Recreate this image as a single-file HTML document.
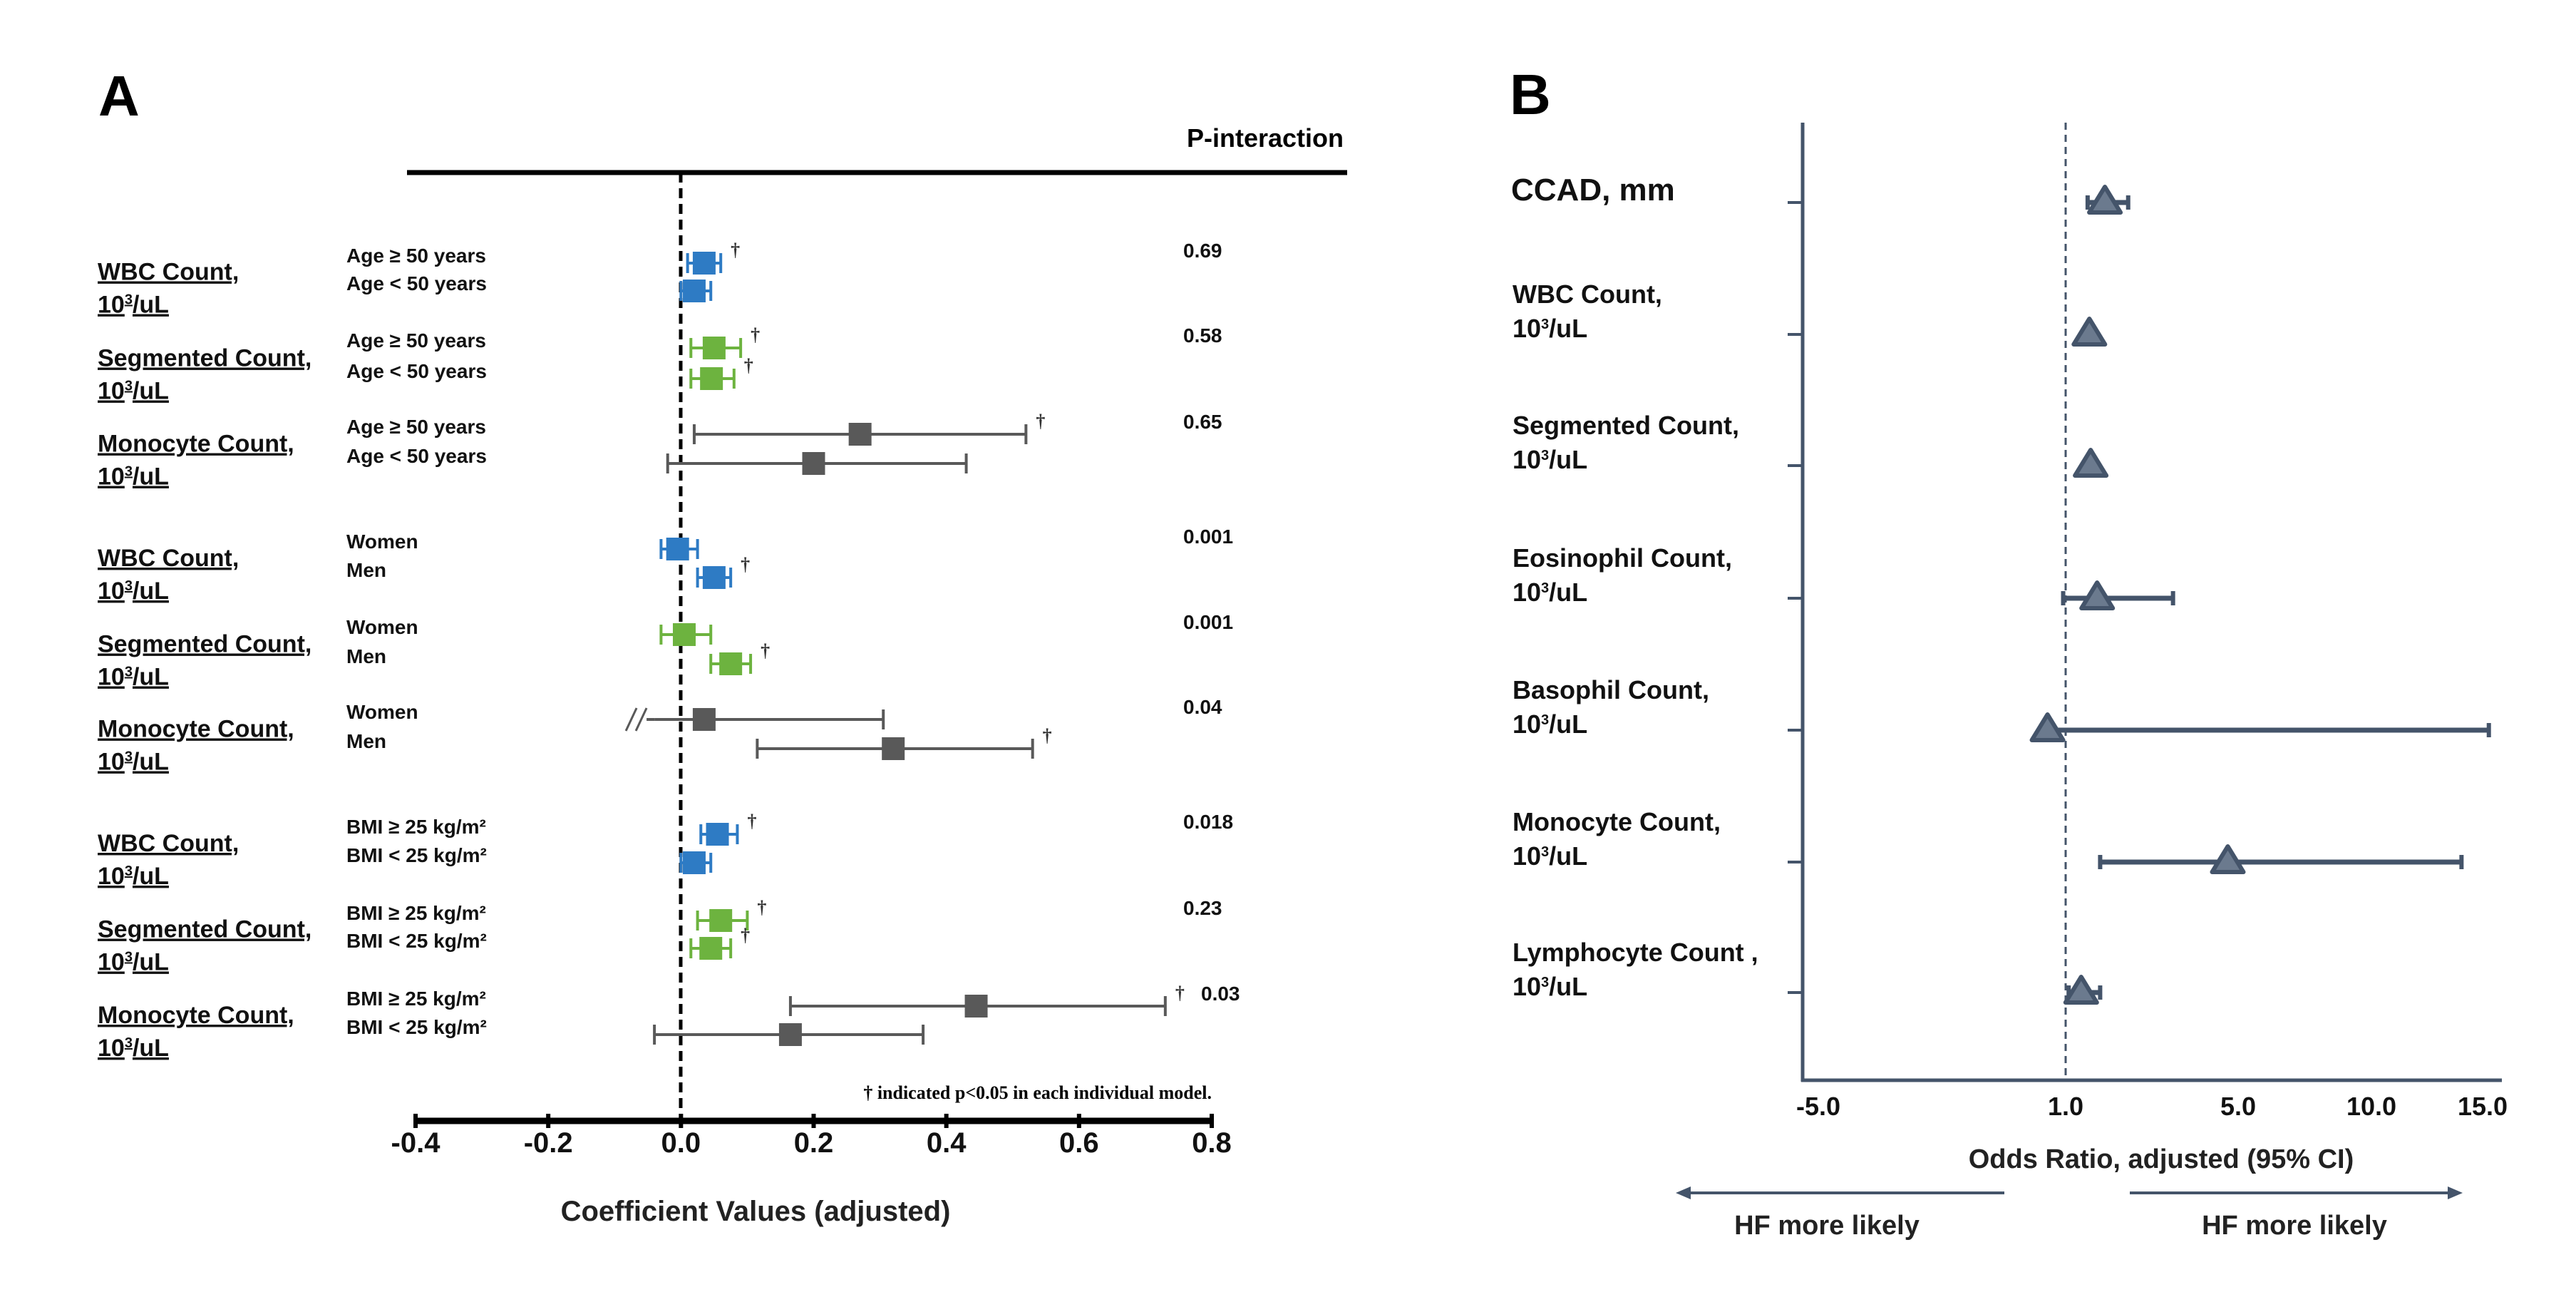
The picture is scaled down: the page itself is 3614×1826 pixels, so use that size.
<!DOCTYPE html>
<html><head><meta charset="utf-8"><style>
html,body{margin:0;padding:0;background:#fff}
svg{display:block;font-family:"Liberation Sans",sans-serif}
</style></head><body>
<svg id="fig" width="3614" height="1826" viewBox="0 0 3614 1826" xmlns="http://www.w3.org/2000/svg">
<g id="panelA">
<text x="138" y="162" font-size="80" font-weight="bold">A</text>
<text x="1885" y="206" font-size="36" font-weight="bold" text-anchor="end">P-interaction</text>
<line x1="571" y1="242" x2="1890" y2="242" stroke="#000" stroke-width="7"/>
<line x1="955" y1="242" x2="955" y2="1572" stroke="#000" stroke-width="5" stroke-dasharray="14,8"/>
<line x1="583" y1="1572" x2="1700" y2="1572" stroke="#000" stroke-width="9"/>
<text x="1060" y="1712" font-size="40" font-weight="bold" text-anchor="middle" fill="#222">Coefficient Values (adjusted)</text>
<text x="1700" y="1541" font-size="26" font-weight="bold" font-family="Liberation Serif, serif" text-anchor="end">† indicated p&lt;0.05 in each individual model.</text>
<g id="aTicks"></g><g id="aLabels"></g><g id="aMarks"></g>
</g>
<g id="panelB">
<text x="2118" y="160" font-size="80" font-weight="bold">B</text>
<line x1="2529" y1="172" x2="2529" y2="1517" stroke="#44546a" stroke-width="5"/>
<line x1="2527" y1="1515" x2="3510" y2="1515" stroke="#44546a" stroke-width="5"/>
<line x1="2898" y1="172" x2="2898" y2="1515" stroke="#44546a" stroke-width="3" stroke-dasharray="10,7"/>
<text x="3032" y="1638" font-size="38" font-weight="bold" text-anchor="middle" fill="#222">Odds Ratio, adjusted  (95% CI)</text>
<g><line x1="2812" y1="1673" x2="2365" y2="1673" stroke="#44546a" stroke-width="4"/><polygon points="2351,1673 2372,1664 2372,1682" fill="#44546a"/></g>
<g><line x1="2988" y1="1673" x2="3440" y2="1673" stroke="#44546a" stroke-width="4"/><polygon points="3455,1673 3434,1664 3434,1682" fill="#44546a"/></g>
<text x="2563" y="1731" font-size="38" font-weight="bold" text-anchor="middle" fill="#222">HF more likely</text>
<text x="3219" y="1731" font-size="38" font-weight="bold" text-anchor="middle" fill="#222">HF more likely</text>
<g id="bTicks"></g><g id="bMarks"></g>
</g>
</svg>
<script>
// ---- Panel A data ----
const aTickValues = [-0.4,-0.2,0.0,0.2,0.4,0.6,0.8];
const aTickLabels = ["-0.4","-0.2","0.0","0.2","0.4","0.6","0.8"];
const aGroups = ["WBC Count,","Segmented Count,","Monocyte Count,","WBC Count,","Segmented Count,","Monocyte Count,","WBC Count,","Segmented Count,","Monocyte Count,"];
const aSubLabels = ["Age ≥ 50 years","Age < 50 years","Age ≥ 50 years","Age < 50 years","Age ≥ 50 years","Age < 50 years","Women","Men","Women","Men","Women","Men","BMI ≥ 25 kg/m²","BMI < 25 kg/m²","BMI ≥ 25 kg/m²","BMI < 25 kg/m²","BMI ≥ 25 kg/m²","BMI < 25 kg/m²"];
const aEstimates = [0.035,0.02,0.05,0.046,0.27,0.20,-0.005,0.05,0.005,0.075,0.035,0.32,0.055,0.02,0.06,0.045,0.445,0.165];
const aLower =     [0.01,0.0,0.015,0.015,0.02,-0.02,-0.03,0.025,-0.03,0.045,-0.04,0.115,0.03,0.0,0.025,0.015,0.165,-0.04];
const aUpper =     [0.06,0.045,0.09,0.08,0.52,0.43,0.025,0.075,0.045,0.105,0.305,0.53,0.085,0.045,0.1,0.075,0.73,0.365];
const aSignificant = [1,0,1,1,1,0,0,1,0,1,0,1,1,0,1,1,1,0];
const aPValues = ["0.69","0.58","0.65","0.001","0.001","0.04","0.018","0.23","0.03"];
const aGroupColors = ["#2e7bc4","#6db33f","#595959"];
// ---- Panel B data ----
const bTickValues = [-5,1,5,10,15];
const bTickLabels = ["-5.0","1.0","5.0","10.0","15.0"];
const bCategories = [["CCAD, mm"],["WBC Count,","10³/uL"],["Segmented Count,","10³/uL"],["Eosinophil Count,","10³/uL"],["Basophil Count,","10³/uL"],["Monocyte Count,","10³/uL"],["Lymphocyte Count ,","10³/uL"]];
const bOR =    [1.91,1.55,1.58,1.73,0.56,4.76,1.36];
const bLower = [1.51,1.45,1.5,0.94,0.56,1.8,1.07];
const bUpper = [2.45,1.65,1.66,3.49,15.28,14.05,1.8];

const NS="http://www.w3.org/2000/svg";
function mk(parent,tag,attrs,text){const e=document.createElementNS(NS,tag);for(const k in attrs)e.setAttribute(k,attrs[k]);if(text!==undefined)e.textContent=text;parent.appendChild(e);return e;}
const ax0=583, ax1=1700;
function xA(v){return ax0+(v-(-0.4))/(1.2)*(ax1-ax0);}
const rowY=[369,408,488,531,609,650,770,810,890,931,1009,1050,1170,1210,1291,1330,1411,1451];
function yA(i){return rowY[i];}
const tA=document.getElementById('aTicks');
aTickValues.forEach((v,i)=>{
  const g=mk(tA,'g',{});
  
  
  mk(g,'line',{x1:xA(v),x2:xA(v),y1:1562,y2:1582,stroke:'#000','stroke-width':6});
  mk(g,'text',{x:xA(v),y:1616,'font-size':40,'font-weight':'bold','text-anchor':'middle',fill:'#111'},aTickLabels[i]);
});
const lA=document.getElementById('aLabels');
aGroups.forEach((name,gi)=>{
  const y=(yA(gi*2)+yA(gi*2+1))/2;
  const g=mk(lA,'g',{});
  
  
  mk(g,'text',{x:137,y:y+4,'font-size':34,'font-weight':'bold','text-decoration':'underline',fill:'#111'},name);
  const t2=mk(g,'text',{x:137,y:y+50,'font-size':34,'font-weight':'bold','text-decoration':'underline',fill:'#111'},'');
  t2.innerHTML='10<tspan dy="-12" font-size="20">3</tspan><tspan dy="12">/uL</tspan>';
  const px = (gi===8) ? 1685 : 1660;
  const pt=mk(g,'text',{x:px,y:yA(gi*2)-8,'font-size':28,'font-weight':'bold',fill:'#111'},aPValues[gi]);
  
  
});
aSubLabels.forEach((s,i)=>{
  const t=mk(lA,'text',{x:486,y:yA(i)-1,'font-size':28,'font-weight':'bold',fill:'#111'},s);
  
  
});
const mA=document.getElementById('aMarks');
aEstimates.forEach((v,i)=>{
  const col=aGroupColors[Math.floor(i/2)%3];
  const y=yA(i);
  const g=mk(mA,'g',{});
  
  
  const lo=xA(aLower[i]), hi=xA(aUpper[i]);
  mk(g,'line',{x1:lo,x2:hi,y1:y,y2:y,stroke:col,'stroke-width':4});
  const brk=(i===10);
  if(!brk) mk(g,'line',{x1:lo,x2:lo,y1:y-14,y2:y+14,stroke:col,'stroke-width':4});
  else { mk(g,'line',{x1:lo-40,x2:lo-25,y1:y+16,y2:y-16,stroke:col,'stroke-width':3}); mk(g,'line',{x1:lo-26,x2:lo-11,y1:y+16,y2:y-16,stroke:col,'stroke-width':3}); mk(g,'line',{x1:lo-11,x2:lo,y1:y,y2:y,stroke:col,'stroke-width':4}); }
  mk(g,'line',{x1:hi,x2:hi,y1:y-14,y2:y+14,stroke:col,'stroke-width':4});
  mk(g,'rect',{x:xA(v)-16,y:y-16,width:32,height:32,fill:col});
  if(aSignificant[i]) mk(g,'text',{x:hi+14,y:y-10,'font-size':26,'font-weight':'bold',fill:'#333','font-family':'Liberation Serif, serif'},'†');
});
const bPix=[2551,2898,3140,3327,3483];
function xB(v){for(let k=0;k<bTickValues.length-1;k++){const a=bTickValues[k],b=bTickValues[k+1];if(v<=b||k===bTickValues.length-2){return bPix[k]+(v-a)/(b-a)*(bPix[k+1]-bPix[k]);}}}
const bRowY=[284,469,653,839,1024,1209,1392];
const tB=document.getElementById('bTicks');
bTickValues.forEach((v,i)=>{
  const t=mk(tB,'text',{x:xB(v),y:1564,'font-size':36,'font-weight':'bold','text-anchor':'middle',fill:'#111'},bTickLabels[i]);
  
  
});
const mB=document.getElementById('bMarks');
bCategories.forEach((c,i)=>{
  const y=bRowY[i];
  const g=mk(mB,'g',{});
  
  
  mk(g,'line',{x1:2508,x2:2529,y1:y,y2:y,stroke:'#44546a','stroke-width':4});
  if(c.length===1){ mk(g,'text',{x:2120,y:y-3,'font-size':44,'font-weight':'bold',fill:'#111'},c[0]); }
  else { mk(g,'text',{x:2122,y:y-44,'font-size':36,'font-weight':'bold',fill:'#111'},c[0]);
    const t2=mk(g,'text',{x:2122,y:y+4,'font-size':36,'font-weight':'bold',fill:'#111'},'');
    t2.innerHTML='10<tspan dy="-12" font-size="20">3</tspan><tspan dy="12">/uL</tspan>'; }
  const lo=xB(bLower[i]), hi=xB(bUpper[i]), cx=xB(bOR[i]);
  mk(g,'line',{x1:lo,x2:hi,y1:y,y2:y,stroke:'#44546a','stroke-width':7});
  mk(g,'line',{x1:lo,x2:lo,y1:y-10,y2:y+10,stroke:'#44546a','stroke-width':6});
  mk(g,'line',{x1:hi,x2:hi,y1:y-10,y2:y+10,stroke:'#44546a','stroke-width':6});
  mk(g,'polygon',{points:`${cx-22},${y+14} ${cx},${y-22} ${cx+22},${y+14}`,fill:'#6b7a8e',stroke:'#44546a','stroke-width':6,'stroke-linejoin':'round'});
});
</script>
</body></html>
